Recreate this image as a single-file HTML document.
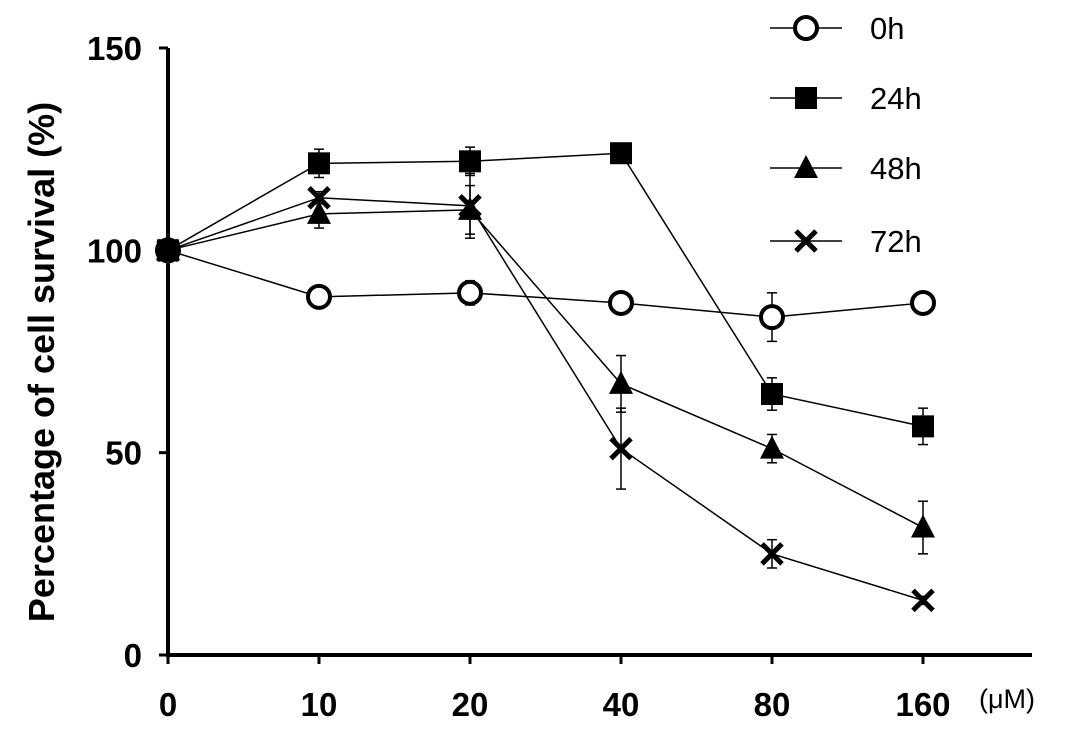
<!DOCTYPE html>
<html><head><meta charset="utf-8"><style>
html,body{margin:0;padding:0;background:#fff;}
svg{display:block;font-family:"Liberation Sans",Arial,sans-serif;}
</style></head><body>
<svg id="chart" width="1075" height="736" viewBox="0 0 1075 736" xmlns="http://www.w3.org/2000/svg"></svg>
<script>
const categories = ["0","10","20","40","80","160"];
const seriesNames = ["0h","24h","48h","72h"];
const values0h  = [100, 88.5, 89.5, 87, 83.5, 87];
const values24h = [100, 121.5, 122, 124, 64.5, 56.5];
const values48h = [100, 109, 110, 67, 51, 31.5];
const values72h = [100, 113, 111, 51, 25, 13.5];
const err0h  = [0, 1.5, 3, 2.5, 6, 1];
const err24h = [0, 3.5, 3.5, 1, 4, 4.5];
const err48h = [0, 3.5, 6, 7, 3.5, 6.5];
const err72h = [0, 1.5, 8, 10, 3.5, 1];
const yTicks = [0, 50, 100, 150];

const NS="http://www.w3.org/2000/svg";
const svg=document.getElementById('chart');
const x0=168, step=151, yBase=655, yTop=48, yMax=150;
function xs(i){return x0+i*step;}
function ys(v){return yBase-(v/yMax)*(yBase-yTop);}
function mk(tag,attrs,parent){const e=document.createElementNS(NS,tag);for(const k in attrs)e.setAttribute(k,attrs[k]);(parent||svg).appendChild(e);return e;}

let a=mk('line',{x1:x0,y1:yTop,x2:x0,y2:yBase,stroke:'#000','stroke-width':4});


a=mk('line',{x1:x0-2,y1:yBase,x2:1032,y2:yBase,stroke:'#000','stroke-width':4});


yTicks.forEach(t=>{
  const y=ys(t);
  mk('line',{x1:x0-9,y1:y,x2:x0,y2:y,stroke:'#000','stroke-width':3});
  const tx=mk('text',{x:x0-26,y:y+12,'text-anchor':'end','font-size':33,'font-weight':'bold'});
  tx.textContent=t;
  
  
});
categories.forEach((c,i)=>{
  const x=xs(i);
  mk('line',{x1:x,y1:yBase,x2:x,y2:yBase+9,stroke:'#000','stroke-width':3});
  const tx=mk('text',{x:x,y:716,'text-anchor':'middle','font-size':33,'font-weight':'bold'});
  tx.textContent=c;
  
  
});
let u=mk('text',{x:1007,y:708,'text-anchor':'middle','font-size':27});
u.textContent='(μM)';


let yt=mk('text',{x:0,y:0,'text-anchor':'middle','font-size':36,'font-weight':'bold',transform:'translate(54,362) rotate(-90)'});
yt.textContent='Percentage of cell survival (%)';



function marker(type,x,y,g){
  if(type==='circle') mk('circle',{cx:x,cy:y,r:11,fill:'#fff',stroke:'#000','stroke-width':4},g);
  else if(type==='square') mk('rect',{x:x-11,y:y-11,width:22,height:22,fill:'#000'},g);
  else if(type==='triangle') mk('polygon',{points:`${x},${y-13} ${x+12},${y+10} ${x-12},${y+10}`,fill:'#000'},g);
  else { mk('line',{x1:x-10,y1:y-10,x2:x+10,y2:y+10,stroke:'#000','stroke-width':5},g); mk('line',{x1:x-10,y1:y+10,x2:x+10,y2:y-10,stroke:'#000','stroke-width':5},g);}
}
const allVals=[values0h,values24h,values48h,values72h];
const allErr=[err0h,err24h,err48h,err72h];
const types=['circle','square','triangle','cross'];
allVals.forEach((vals,s)=>{
  const g=mk('g',{});
  
  
  mk('polyline',{points:vals.map((v,i)=>xs(i)+','+ys(v)).join(' '),fill:'none',stroke:'#000','stroke-width':1.5},g);
  vals.forEach((v,i)=>{
    const e=allErr[s][i];
    if(e>0){const x=xs(i);
      mk('line',{x1:x,y1:ys(v+e),x2:x,y2:ys(v-e),stroke:'#000','stroke-width':1.5},g);
      mk('line',{x1:x-5,y1:ys(v+e),x2:x+5,y2:ys(v+e),stroke:'#000','stroke-width':1.5},g);
      mk('line',{x1:x-5,y1:ys(v-e),x2:x+5,y2:ys(v-e),stroke:'#000','stroke-width':1.5},g);}
  });
  vals.forEach((v,i)=>marker(types[s],xs(i),ys(v),g));
});
const legY=[28,98,168,241];
seriesNames.forEach((n,s)=>{
  const g=mk('g',{});
  
  
  mk('line',{x1:770,y1:legY[s],x2:842,y2:legY[s],stroke:'#000','stroke-width':1.5},g);
  marker(types[s],806,legY[s],g);
  const t=mk('text',{x:870,y:legY[s]+11,'font-size':31},g);
  t.textContent=n;
});
</script>
</body></html>
